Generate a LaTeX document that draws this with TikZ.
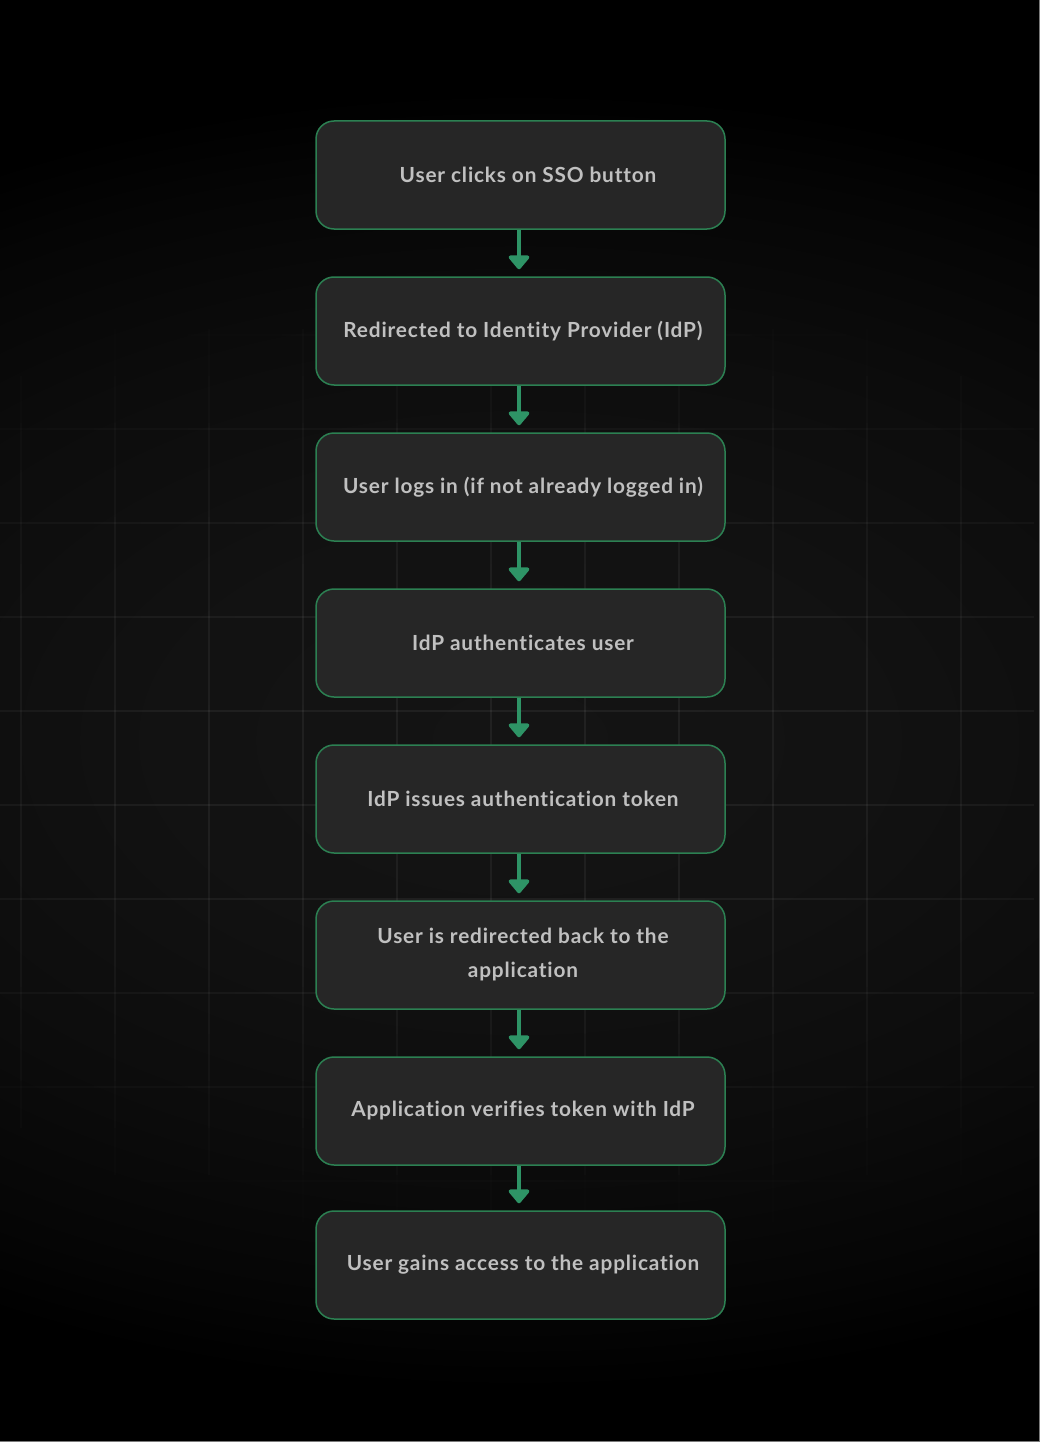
\documentclass[tikz,border=0pt]{standalone}
\usepackage{fontspec}
\setmainfont{Lato}[Ligatures={NoCommon,NoRare},LetterSpace=4]
\usetikzlibrary{arrows.meta}
\definecolor{bgc}{HTML}{141414}
\definecolor{bgc2}{HTML}{121212}
\definecolor{bgm}{HTML}{0C0C0C}
\definecolor{bgd}{HTML}{050505}
\definecolor{boxfill}{HTML}{262626}
\definecolor{boxline}{HTML}{2C8052}
\definecolor{arrcol}{HTML}{2E9466}
\definecolor{txtcol}{HTML}{C0C0C0}
\definecolor{edgecol}{HTML}{7A7A7A}
\pgfdeclareradialshading{bgshade}{\pgfpoint{0bp}{0bp}}{color(0bp)=(bgc); color(8bp)=(bgc2); color(16bp)=(bgm); color(22bp)=(bgd); color(25bp)=(black); color(50bp)=(black)}
\tikzset{
  stepbox/.style={draw=boxline, fill=boxfill, line width=1.5pt, rounded corners=18pt,
    minimum width=409pt, minimum height=108pt, inner sep=0pt, align=center,
    text=txtcol, font=\bfseries\fontsize{20.8}{34}\selectfont},
  arr/.style={draw=arrcol, line width=4.5pt, shorten >=7pt,
    -{Triangle[width=24pt,length=15pt,round]}},
}
\begin{document}
\begin{tikzpicture}[x=1pt,y=-1pt]
\useasboundingbox (0,0) rectangle (1040,1442);
\fill[black] (0,0) rectangle (1040,1442);
\shade[shading=bgshade] (-580,90) rectangle (1620,1390);
% grid
\foreach \gx in {21,115,...,961}{
  \foreach \sy in {0,47,...,1395}{
    \pgfmathsetmacro{\dd}{((\gx-520)/1000)^2+((\sy+23-760)/480)^2}
    \pgfmathsetmacro{\aa}{max(0,1-\dd)*0.06}
    \draw[white, opacity=\aa, line width=1.3pt] (\gx,\sy) -- (\gx,\sy+47);
  }
}
\foreach \gy in {53,147,...,1369}{
  \foreach \sx in {0,47,...,1000}{
    \pgfmathsetmacro{\dd}{((\sx+23-520)/1000)^2+((\gy-760)/480)^2}
    \pgfmathsetmacro{\aa}{max(0,1-\dd)*0.06}
    \draw[white, opacity=\aa, line width=1.3pt] (\sx,\gy) -- (\sx+47,\gy);
  }
}
\draw[edgecol, line width=1pt] (1039.5,0) -- (1039.5,1442);
\draw[edgecol, line width=1pt] (0,1441.5) -- (1040,1441.5);
% boxes
\node[stepbox] (b1) at (520.5,175) {\hspace*{15pt}User clicks on SSO button};
\node[stepbox] (b2) at (520.5,331) {\hspace*{5pt}Redirected to Identity Provider (IdP)};
\node[stepbox] (b3) at (520.5,487) {\hspace*{5pt}User logs in (if not already logged in)};
\node[stepbox] (b4) at (520.5,643) {\hspace*{5pt}IdP authenticates user};
\node[stepbox] (b5) at (520.5,799) {\hspace*{5pt}IdP issues authentication token};
\node[stepbox] (b6) at (520.5,955) {\hspace*{5pt}User is redirected back to the\\\hspace*{5pt}application};
\node[stepbox] (b7) at (520.5,1111) {\hspace*{5pt}Application verifies token with IdP};
\node[stepbox] (b8) at (520.5,1265) {\hspace*{5pt}User gains access to the application};
% arrows
\foreach \a/\b in {b1/b2,b2/b3,b3/b4,b4/b5,b5/b6,b6/b7,b7/b8}{
  \draw[arr] ([xshift=-1.5pt]\a.south) -- ([xshift=-1.5pt]\b.north);
}
\end{tikzpicture}
\end{document}
